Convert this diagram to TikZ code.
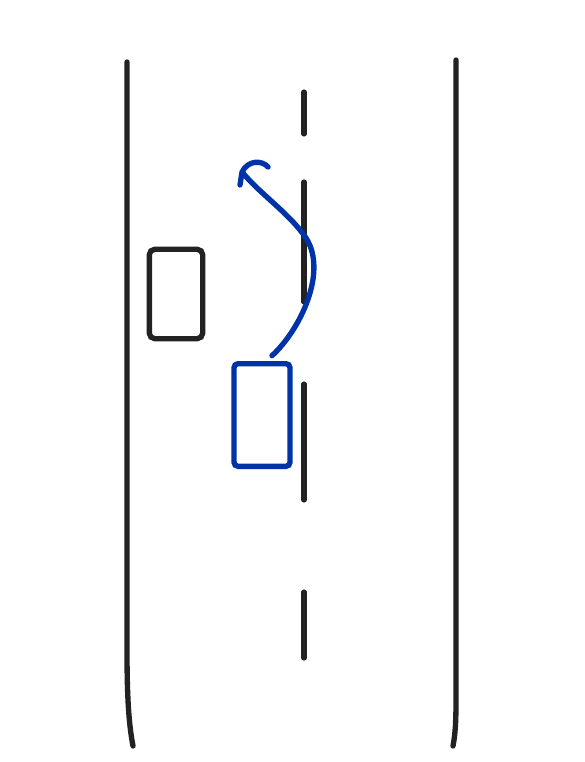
\documentclass[tikz,border=0pt]{standalone}
\usetikzlibrary{positioning}
\definecolor{ink}{HTML}{222222}
\definecolor{pen}{HTML}{0033A8}
\begin{document}
\begin{tikzpicture}[x=0.75pt, y=-0.75pt,
        edge/.style={draw=ink, line width=4pt, line cap=round},
        lane/.style={draw=ink, line width=3.8pt, line cap=round},
        car/.style={draw=ink, line width=4pt, rounded corners=4pt, minimum width=40pt, minimum height=67pt, inner sep=0pt},
        mover/.style={car, draw=pen, minimum width=42pt, minimum height=77pt, rounded corners=3pt},
        move/.style={draw=pen, line width=4pt, line cap=round, line join=round}
    ]
        \useasboundingbox (0,0) rectangle (584,762);

        % Fahrbahnrand
        \draw[edge] (127,62) -- (127,650) .. controls (127,700) and (129,725) .. (133,746);
        \draw[edge] (456,60) -- (456,700) .. controls (456,725) and (455,735) .. (453,746);

        % Mittellinie
        \foreach \a/\b in {92/134, 182/302, 384/500, 592/658}
            \draw[lane] (304,\a) -- (304,\b);

        % Fahrzeuge
        \node[car] (parked) at (176,294) {};
        \node[mover] (ego) at (262,415) {};

        % Ausweichen
        \coordinate (tip) at (243,173);
        \draw[move] ([xshift=7.5pt,yshift=4pt]ego.north) .. controls (300,330) and (328,272) .. (306,238)
            .. controls (290,214) and (258,192) .. (tip);
        \draw[move] (240,185) -- (242,172) .. controls (248,160) and (262,160) .. (268,167);
    \end{tikzpicture}
\end{document}
